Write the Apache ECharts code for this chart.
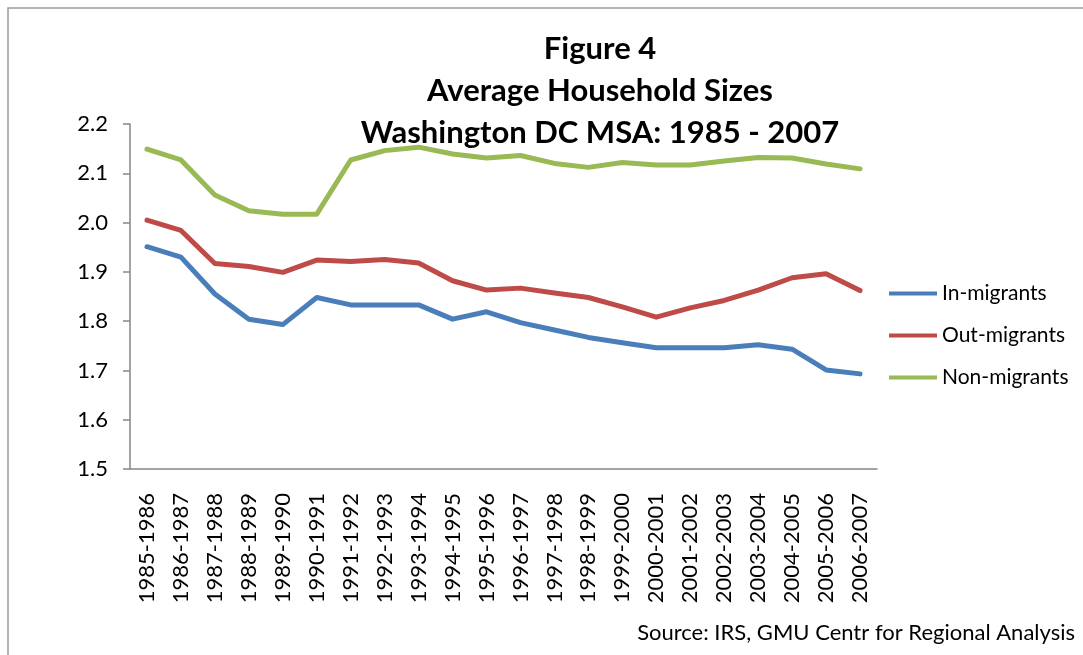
<!DOCTYPE html>
<html>
<head>
<meta charset="utf-8">
<script src="https://cdn.jsdelivr.net/npm/echarts@6/dist/echarts.min.js"></script>
<style>
  html, body { margin: 0; padding: 0; background: #fff; }
  #chart { width: 1083px; height: 655px; }
</style>
</head>
<body>
<div id="chart"></div>
<script>
// periods on the x axis
const periods = [
  '1985-1986', '1986-1987', '1987-1988', '1988-1989', '1989-1990', '1990-1991',
  '1991-1992', '1992-1993', '1993-1994', '1994-1995', '1995-1996', '1996-1997',
  '1997-1998', '1998-1999', '1999-2000', '2000-2001', '2001-2002', '2002-2003',
  '2003-2004', '2004-2005', '2005-2006', '2006-2007'
]
// average household size
const inMigrants = [1.951, 1.930, 1.855, 1.804, 1.793, 1.848, 1.833, 1.833, 1.833, 1.804, 1.819,
  1.797, 1.782, 1.767, 1.756, 1.746, 1.746, 1.746, 1.752, 1.743, 1.701, 1.693]
const outMigrants = [2.005, 1.984, 1.917, 1.911, 1.899, 1.924, 1.921, 1.925, 1.918, 1.882, 1.863,
  1.867, 1.857, 1.848, 1.829, 1.808, 1.827, 1.842, 1.863, 1.888, 1.896, 1.862]
const nonMigrants = [2.149, 2.127, 2.056, 2.024, 2.017, 2.017, 2.127, 2.146, 2.153, 2.139, 2.131,
  2.136, 2.120, 2.112, 2.122, 2.117, 2.117, 2.125, 2.132, 2.131, 2.119, 2.109]

const font = 'Lato, "Open Sans", sans-serif'
const axisGray = '#868686'

function lineSeries(name, data, color) {
  return {
    name: name,
    type: 'line',
    data: data,
    symbol: 'none',
    color: color,
    lineStyle: { width: 5, color: color, cap: 'round', join: 'round' }
  }
}

let chart = echarts.init(document.getElementById('chart'))
let option = {
  animation: false,
  backgroundColor: '#fff',
  title: {
    text: 'Figure 4\nAverage Household Sizes\nWashington DC MSA: 1985 - 2007',
    left: 595,
    top: 23,
    textAlign: 'center',
    textStyle: {
      fontFamily: font,
      fontSize: 31,
      fontWeight: 'bold',
      color: '#000',
      lineHeight: 42
    }
  },
  legend: {
    orient: 'vertical',
    left: 884,
    top: 278,
    icon: 'rect',
    itemWidth: 48,
    itemHeight: 4,
    itemGap: 21,
    textStyle: { fontFamily: font, fontSize: 21, color: '#000', padding: [0, 0, 0, 0] },
    data: ['In-migrants', 'Out-migrants', 'Non-migrants']
  },
  grid: { left: 130, top: 124, right: 206, bottom: 186 },
  xAxis: {
    type: 'category',
    data: periods,
    boundaryGap: true,
    axisLine: { lineStyle: { color: axisGray, width: 1.5 } },
    axisTick: { length: 6, lineStyle: { color: axisGray, width: 1.5 } },
    axisLabel: {
      rotate: 90,
      interval: 0,
      margin: 24,
      fontFamily: font,
      fontSize: 22,
      color: '#000'
    }
  },
  yAxis: {
    type: 'value',
    min: 1.5,
    max: 2.2,
    interval: 0.1,
    axisLine: { show: true, lineStyle: { color: axisGray, width: 1.5 } },
    axisTick: { show: true, length: 7, lineStyle: { color: axisGray, width: 1.5 } },
    splitLine: { show: false },
    axisLabel: {
      margin: 22,
      fontFamily: font,
      fontSize: 22,
      color: '#000',
      formatter: v => v.toFixed(1)
    }
  },
  series: [
    lineSeries('In-migrants', inMigrants, '#4A7EBB'),
    lineSeries('Out-migrants', outMigrants, '#BE4B48'),
    lineSeries('Non-migrants', nonMigrants, '#98B954')
  ],
  graphic: [
    { // chart frame, only the top and left edges are inside the picture
      type: 'rect',
      shape: { x: 8, y: 8, width: 1200, height: 1000 },
      style: { fill: 'none', stroke: '#9a9a9a', lineWidth: 1.5 },
      silent: true
    },
    {
      type: 'text',
      right: 8,
      top: 622,
      style: {
        text: 'Source: IRS, GMU Centr for Regional Analysis',
        fontFamily: font,
        fontSize: 22,
        fill: '#000'
      }
    }
  ]
}
chart.setOption(option)
</script>
</body>
</html>
